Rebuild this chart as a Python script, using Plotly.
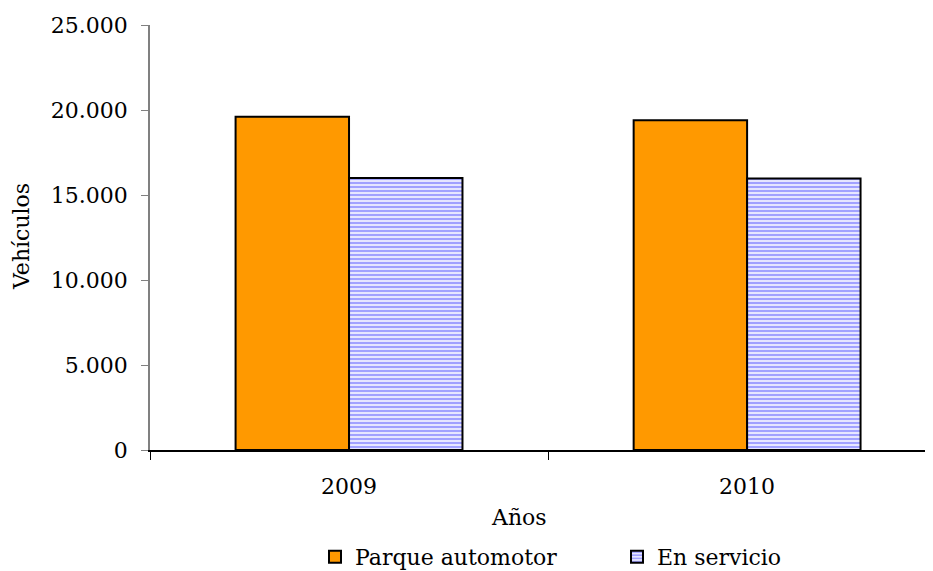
import plotly.graph_objects as go

years = ["2009", "2010"]
parque = [19600, 19400]
servicio = [16000, 15970]
series_names = ["Parque automotor", "En servicio"]
y_ticks = [0, 5000, 10000, 15000, 20000, 25000]
y_tick_labels = ["0", "5.000", "10.000", "15.000", "20.000", "25.000"]

FONT = "DejaVu Serif"
FS = 22

# The page body has an 8px margin, so the figure is 8px smaller than the window
W, H = 925, 563
L, T, B, R = 142, 17, 121, 0
pw = W - L - R
ph = H - T - B

fig = go.Figure()
fig.add_trace(go.Bar(
    x=years, y=parque, name=series_names[0],
    marker=dict(color="#FF9900", line=dict(color="black", width=2)),
))
fig.add_trace(go.Bar(
    x=years, y=servicio, name=series_names[1],
    marker=dict(color="#E6E6FF", line=dict(color="black", width=2),
                pattern=dict(shape="-", fgcolor="#9999FF", bgcolor="#E6E6FF",
                             size=4, solidity=0.45, fillmode="replace")),
))

fig.update_layout(
    width=W, height=H,
    margin=dict(l=L, r=R, t=T, b=B, autoexpand=False),
    paper_bgcolor="white", plot_bgcolor="white",
    barmode="group", bargap=0.43, bargroupgap=0,
    font=dict(family=FONT, size=FS, color="black"),
    showlegend=True,
    legend=dict(orientation="h", xref="container", yref="container",
                x=(327 - 8 - 12) / W, xanchor="left",
                y=1 - (557 - 8) / H, yanchor="middle",
                font=dict(size=FS), entrywidth=257,
                itemsizing="constant", bgcolor="rgba(0,0,0,0)"),
    xaxis=dict(
        type="category", range=[-0.5, 1.467],
        showline=True, linecolor="black", linewidth=1.5,
        ticks="outside", tickson="boundaries", ticklen=8, tickcolor="black",
        ticklabelstandoff=16,
        tickfont=dict(size=FS), showgrid=False, zeroline=False,
    ),
    yaxis=dict(
        range=[0, 25000], tickvals=y_ticks, ticktext=y_tick_labels,
        showline=True, linecolor="#808080", linewidth=1.5,
        ticks="outside", ticklen=7, tickcolor="#808080",
        ticklabelstandoff=9,
        tickfont=dict(size=FS), showgrid=False, zeroline=False,
    ),
    annotations=[
        dict(text="Años", xref="paper", yref="paper",
             x=((519 - 8) - L) / pw, y=-((517 - 8) - (T + ph)) / ph,
             xanchor="center", yanchor="middle",
             showarrow=False, font=dict(size=FS)),
        dict(text="Vehículos", textangle=-90, xref="paper", yref="paper",
             x=((22 - 8) - L) / pw, y=((T + ph) - (237 - 8)) / ph,
             xanchor="center", yanchor="middle",
             showarrow=False, font=dict(size=FS)),
    ],
)

fig.write_html("out.html")
